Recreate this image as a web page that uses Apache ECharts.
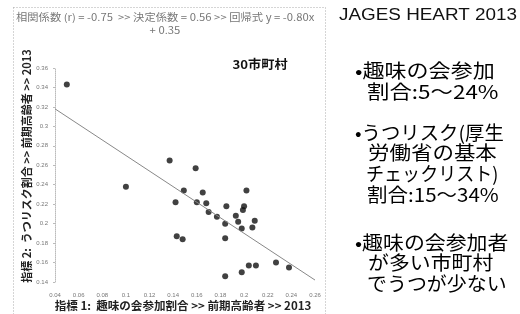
<!DOCTYPE html>
<html>
<head>
<meta charset="utf-8">
<script src="https://cdn.jsdelivr.net/npm/echarts@6/dist/echarts.min.js"></script>
<style>
  html, body { margin: 0; padding: 0; background: #fff; }
  #chart { width: 520px; height: 314px; }
</style>
</head>
<body>
<div id="chart"></div>
<script>
// 趣味の会参加割合 (x) と うつリスク割合 (y), 30市町村
const hobbyRate = [
  0.050, 0.137, 0.159, 0.100, 0.149, 0.165, 0.202, 0.142, 0.160, 0.168,
  0.185, 0.200, 0.199, 0.170, 0.177, 0.193, 0.195, 0.184, 0.209, 0.198,
  0.207, 0.143, 0.148, 0.184, 0.227, 0.238, 0.204, 0.210, 0.198, 0.184
];
const depressionRate = [
  0.343, 0.265, 0.257, 0.238, 0.234, 0.232, 0.234, 0.222, 0.222, 0.221,
  0.218, 0.218, 0.214, 0.212, 0.207, 0.208, 0.202, 0.200, 0.203, 0.195,
  0.196, 0.187, 0.184, 0.185, 0.160, 0.155, 0.157, 0.157, 0.150, 0.146
];
// 回帰式 y = -0.80x + 0.35 の端点
const regX = [0.04, 0.26];
const regY = [0.318, 0.142];

const xTicks = { min: 0.04, max: 0.26, interval: 0.02 };
const yTicks = { min: 0.14, max: 0.36, interval: 0.02 };

const statsLine = "相関係数 (r) = -0.75  >> 決定係数 = 0.56 >> 回帰式 y = -0.80x";
const statsLine2 = "+ 0.35";
const xTitle = "指標 1:  趣味の会参加割合 >> 前期高齢者 >> 2013";
const yTitle = "指標 2:  うつリスク割合 >> 前期高齢者 >> 2013";
const rightLines = [
  { text: "•趣味の会参加", x: 355, y: 71, sx: 1.16 },
  { text: "割合:5～24%", x: 367, y: 92, sx: 1.18 },
  { text: "•うつリスク(厚生", x: 355, y: 133, sx: 1.02 },
  { text: "労働省の基本", x: 368, y: 153, sx: 1.13 },
  { text: "チェックリスト)", x: 366, y: 174, sx: 0.95 },
  { text: "割合:15～34%", x: 367, y: 195, sx: 1.08 },
  { text: "•趣味の会参加者", x: 355, y: 243, sx: 1.1 },
  { text: "が多い市町村", x: 368, y: 263, sx: 1.1 },
  { text: "でうつが少ない", x: 367, y: 284, sx: 1.05 }
];

const cjk = '"Noto Sans CJK JP", "Liberation Sans", sans-serif';
const chart = echarts.init(document.getElementById("chart"));

const graphics = [
  {
    type: "rect",
    shape: { x: 13.5, y: 7.5, width: 312, height: 320 },
    style: { fill: null, stroke: "#aaa", lineWidth: 1, lineDash: [1, 2] },
    silent: true
  },
  {
    type: "text", x: 16, y: 17, scaleX: 1.13,
    style: { text: statsLine, fill: "#777", font: "10px " + cjk, verticalAlign: "middle" }
  },
  {
    type: "text", x: 165, y: 30, scaleX: 1.13,
    style: { text: statsLine2, fill: "#777", font: "10px " + cjk, align: "center", verticalAlign: "middle" }
  },
  {
    type: "text", x: 260, y: 64, scaleX: 1.1,
    style: { text: "30市町村", fill: "#111", font: "bold 12px " + cjk, align: "center", verticalAlign: "middle" }
  },
  {
    type: "text", x: 183, y: 306, scaleX: 1.05,
    style: { text: xTitle, fill: "#222", font: "bold 11px " + cjk, align: "center", verticalAlign: "middle" }
  },
  {
    type: "text", x: 27, y: 166, rotation: Math.PI / 2,
    style: { text: yTitle, fill: "#222", font: "bold 11px " + cjk, align: "center", verticalAlign: "middle" }
  },
  {
    type: "text", x: 428, y: 16, scaleX: 1.18,
    style: { text: "JAGES HEART 2013", fill: "#111", font: '16px "Liberation Sans", sans-serif', align: "center", verticalAlign: "middle" }
  }
];
rightLines.forEach((l) => {
  graphics.push({
    type: "text", x: l.x, y: l.y, scaleX: l.sx,
    style: { text: l.text, fill: "#000", font: "19px " + cjk, verticalAlign: "middle" }
  });
});

chart.setOption({
  animation: false,
  grid: { left: 55, right: 205, top: 68, bottom: 32 },
  xAxis: {
    type: "value",
    min: xTicks.min, max: xTicks.max, interval: xTicks.interval,
    axisLine: { show: false },
    axisTick: { show: false },
    splitLine: { show: false },
    axisLabel: { color: "#777", fontSize: 6, margin: 10, fontFamily: "Liberation Sans" }
  },
  yAxis: {
    type: "value",
    min: yTicks.min, max: yTicks.max, interval: yTicks.interval,
    axisLine: { show: true, lineStyle: { color: "#bbb", type: "dotted" } },
    axisTick: { show: true, length: 2, lineStyle: { color: "#bbb" } },
    splitLine: { show: false },
    showMinLabel: false,
    axisLabel: { color: "#777", fontSize: 6, margin: 7, fontFamily: "Liberation Sans" }
  },
  series: [
    {
      type: "line",
      data: regX.map((x, i) => [x, regY[i]]),
      symbol: "none",
      lineStyle: { color: "#888", width: 1 },
      silent: true
    },
    {
      type: "scatter",
      data: hobbyRate.map((x, i) => [x, depressionRate[i]]),
      symbolSize: 6,
      itemStyle: { color: "#111" }
    }
  ],
  graphic: graphics
});
</script>
</body>
</html>
